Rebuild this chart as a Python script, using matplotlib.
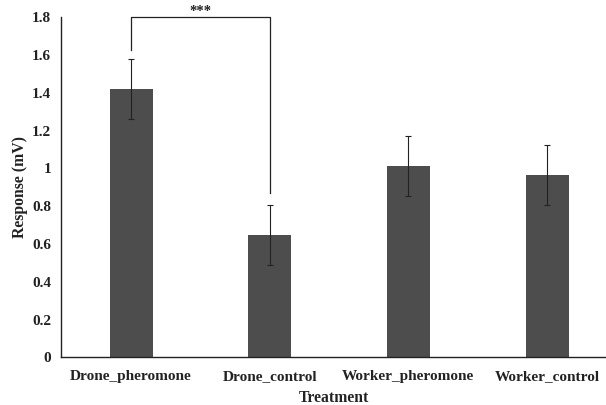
import matplotlib
matplotlib.use("Agg")
import matplotlib.pyplot as plt
from matplotlib.ticker import FuncFormatter

categories = ["Drone_pheromone", "Drone_control", "Worker_pheromone", "Worker_control"]
values = [1.42, 0.647, 1.012, 0.965]
errors = [0.16, 0.16, 0.16, 0.16]
sig_label = "***"
sig_top = 1.8
sig_left_bottom = 1.628
sig_right_bottom = 0.871

plt.rcParams['font.family'] = ['Liberation Serif', 'DejaVu Serif']
plt.rcParams['font.weight'] = 'bold'

fig = plt.figure(figsize=(6.06, 4.05), dpi=100)
ax = fig.add_axes([0.1007, 0.1173, 0.8993, 0.8407])

x = list(range(len(categories)))
ax.bar(x, values, width=0.31, color="#4d4d4d", zorder=2)
ax.errorbar(x, values, yerr=errors, fmt='none', ecolor="#222222", elinewidth=0.8,
            capsize=2, capthick=0.8, zorder=3)

ax.set_xlim(-0.505, 3.425)
ax.set_ylim(0, 1.8)
ax.set_yticks([0, 0.2, 0.4, 0.6, 0.8, 1.0, 1.2, 1.4, 1.6, 1.8])
ax.yaxis.set_major_formatter(FuncFormatter(lambda v, p: f"{v:g}"))
ax.set_xticks(x)
ax.set_xticklabels(categories)
ax.tick_params(axis='both', length=0, labelsize=11, colors='#222222')
ax.tick_params(axis='x', pad=9)
ax.tick_params(axis='y', pad=7)
for lab in ax.get_xticklabels() + ax.get_yticklabels():
    lab.set_fontweight('bold')

for s in ['top', 'right']:
    ax.spines[s].set_visible(False)
for s in ['left', 'bottom']:
    ax.spines[s].set_color('#222222')
    ax.spines[s].set_linewidth(1.0)

ax.set_ylabel("Response (mV)", fontsize=11.3, fontweight='bold', labelpad=3, color='#222222')
ax.set_xlabel("Treatment", fontsize=11.3, fontweight='bold', labelpad=5, color='#222222')

ax.plot([x[0], x[0], x[1], x[1]], [sig_left_bottom, sig_top, sig_top, sig_right_bottom],
        color='#222222', lw=0.9, clip_on=False, zorder=4)
ax.text((x[0] + x[1]) / 2, sig_top - 0.005, sig_label, ha='center', va='bottom',
        fontsize=10.5, fontweight='bold', color='#222222')

fig.savefig("out.png", dpi=100)
